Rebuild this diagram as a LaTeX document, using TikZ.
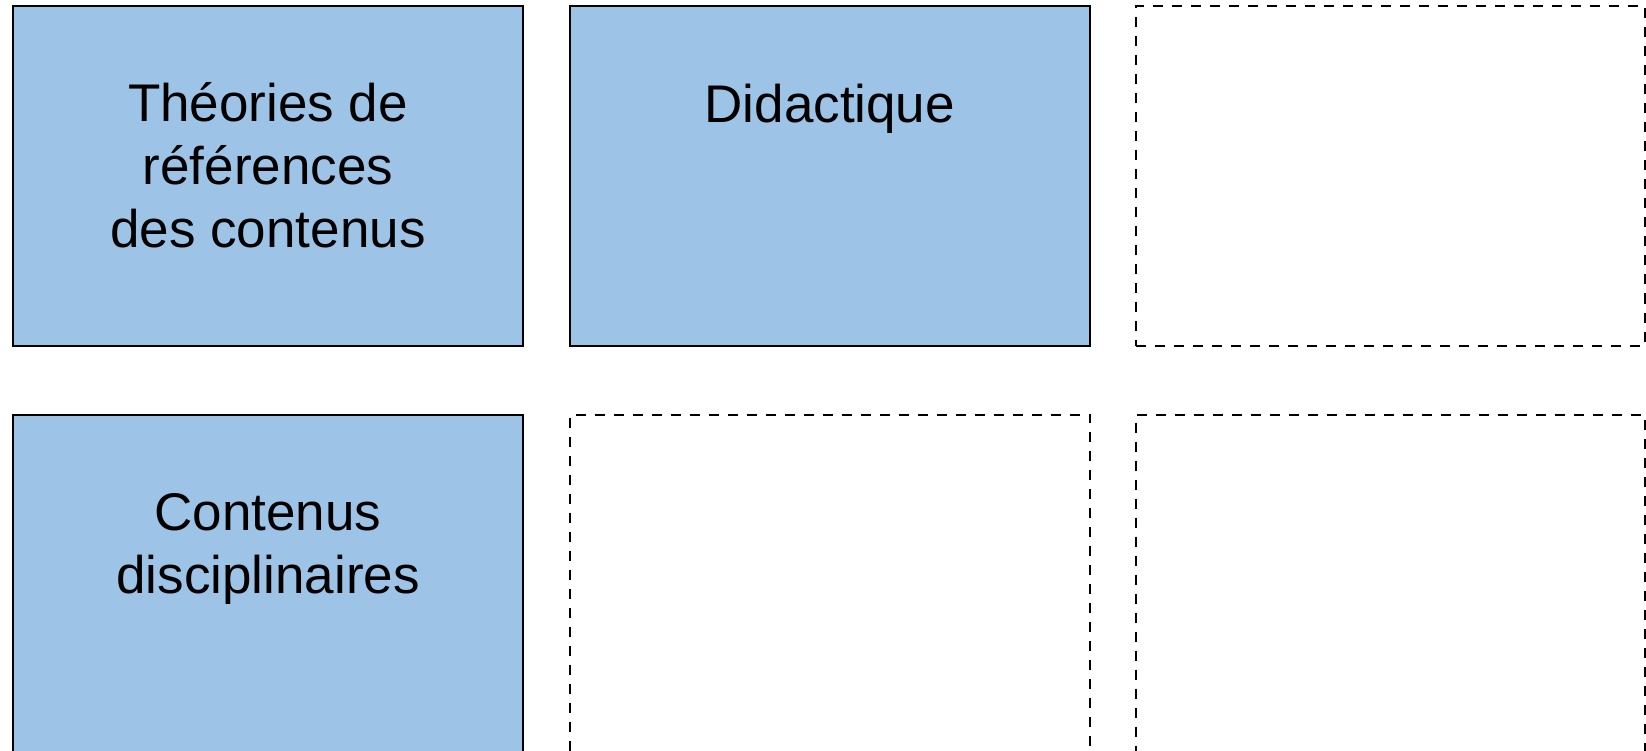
\documentclass[tikz,border=0pt]{standalone}
\usepackage{fontspec}
\setmainfont{Liberation Sans}
\definecolor{boxblue}{RGB}{157,195,230}
\begin{document}
\begin{tikzpicture}[x=1pt,y=-1pt,
  solidbox/.style={draw=black, fill=boxblue, line width=2pt, inner sep=0pt, outer sep=0pt, anchor=north west},
  dashbox/.style={draw=black, line width=2pt, dash pattern=on 10pt off 9pt, inner sep=0pt, outer sep=0pt, anchor=north west},
  lbl/.style={align=center, font=\fontsize{53}{63}\selectfont, inner sep=0pt, anchor=base}]
\useasboundingbox (0,0) rectangle (1646,751);
\clip (0,0) rectangle (1646,751);
% row 1
\node[solidbox, minimum width=510pt, minimum height=340pt] (b1) at (13,6) {};
\node[solidbox, minimum width=520.5pt, minimum height=340pt] (b2) at (569.5,6) {};
\node[dashbox, minimum width=508.5pt, minimum height=340pt] (b3) at (1136,6) {};
% row 2
\node[solidbox, minimum width=510pt, minimum height=400pt] (b4) at (13,414.5) {};
\node[dashbox, minimum width=520.5pt, minimum height=400pt] (b5) at (569.5,414.5) {};
\node[dashbox, minimum width=508.5pt, minimum height=400pt] (b6) at (1136,414.5) {};
% labels (base anchor = baseline of the last line)
\node[lbl] (t1) at ([yshift=-242pt]b1.north) {Théories de\\références\\des contenus};
\node[lbl] (t2) at ([yshift=-117pt]b2.north) {Didactique};
\node[lbl] (t4) at ([yshift=-179pt]b4.north) {Contenus\\disciplinaires};
\end{tikzpicture}
\end{document}
